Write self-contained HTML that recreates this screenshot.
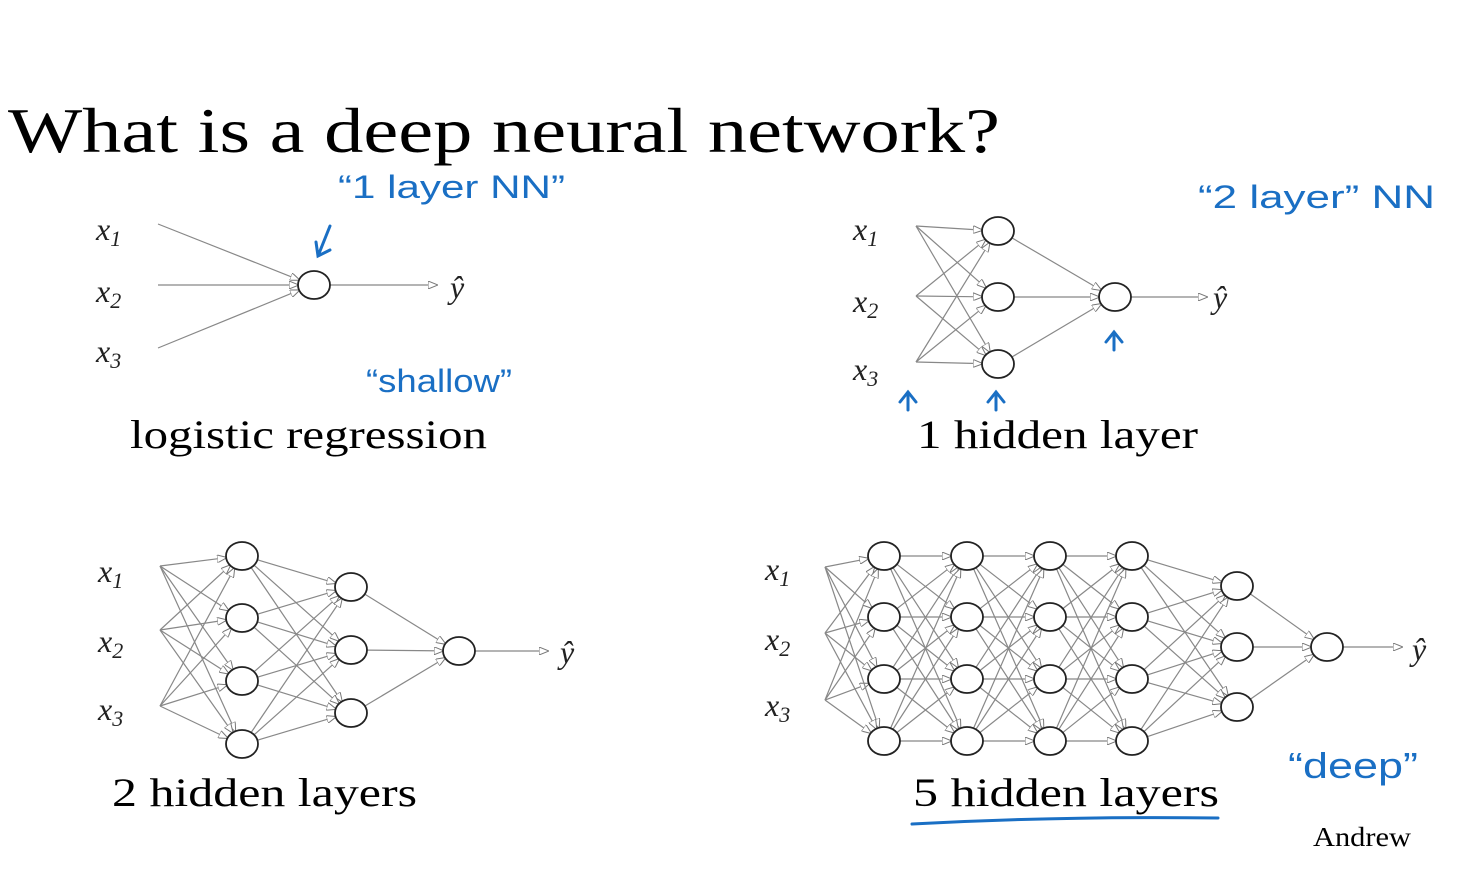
<!DOCTYPE html>
<html><head><meta charset="utf-8"><style>
html,body{margin:0;padding:0;background:#fff;}
svg{display:block}
.t{font-family:"Liberation Serif",serif;fill:#000}
.x{font-family:"Liberation Serif",serif;font-style:italic;fill:#222;font-size:32px}
.h{font-family:"Liberation Sans",sans-serif;fill:#1a6fc4;font-size:32px}
</style></head><body>
<svg id="s" width="1460" height="894" xmlns="http://www.w3.org/2000/svg">
<defs><marker id="a" markerWidth="10" markerHeight="8" refX="9" refY="4" orient="auto" markerUnits="userSpaceOnUse"><path d="M0,0 L10,4 L0,8 Z" fill="#fff" stroke="#777" stroke-width="1"/></marker></defs>
<rect width="1460" height="894" fill="#fff"/>
<text class="t" x="8" y="152" font-size="64" textLength="992" lengthAdjust="spacingAndGlyphs">What is a deep neural network?</text>
<text class="t" x="130" y="448" font-size="40" textLength="357" lengthAdjust="spacingAndGlyphs">logistic regression</text>
<text class="t" x="917" y="448" font-size="40" textLength="281" lengthAdjust="spacingAndGlyphs">1 hidden layer</text>
<text class="t" x="112" y="806" font-size="40" textLength="305" lengthAdjust="spacingAndGlyphs">2 hidden layers</text>
<text class="t" x="913" y="806" font-size="40" textLength="306" lengthAdjust="spacingAndGlyphs">5 hidden layers</text>
<text class="t" x="1313" y="846" font-size="27" textLength="98" lengthAdjust="spacingAndGlyphs">Andrew</text>
<g id="g" stroke="#888" stroke-width="1.2" fill="none"></g>
<g id="n" stroke="#222" stroke-width="1.8" fill="#fff"></g>
<g class="x">
<text x="96" y="240">x<tspan font-size="22" dy="6">1</tspan></text>
<text x="96" y="302">x<tspan font-size="22" dy="6">2</tspan></text>
<text x="96" y="362">x<tspan font-size="22" dy="6">3</tspan></text>
<text x="853" y="240">x<tspan font-size="22" dy="6">1</tspan></text>
<text x="853" y="312">x<tspan font-size="22" dy="6">2</tspan></text>
<text x="853" y="380">x<tspan font-size="22" dy="6">3</tspan></text>
<text x="98" y="582">x<tspan font-size="22" dy="6">1</tspan></text>
<text x="98" y="652">x<tspan font-size="22" dy="6">2</tspan></text>
<text x="98" y="720">x<tspan font-size="22" dy="6">3</tspan></text>
<text x="765" y="580">x<tspan font-size="22" dy="6">1</tspan></text>
<text x="765" y="650">x<tspan font-size="22" dy="6">2</tspan></text>
<text x="765" y="716">x<tspan font-size="22" dy="6">3</tspan></text>
<text x="450" y="298">ŷ</text>
<text x="1213" y="308">ŷ</text>
<text x="560" y="663">ŷ</text>
<text x="1412" y="660">ŷ</text>
</g>
<g class="h">
<text x="338" y="198" textLength="227" lengthAdjust="spacingAndGlyphs">“1 layer NN”</text>
<text x="1198" y="208" textLength="237" lengthAdjust="spacingAndGlyphs">“2 layer” NN</text>
<text x="366" y="392" textLength="146" lengthAdjust="spacingAndGlyphs">“shallow”</text>
<text x="1288" y="778" font-size="36" textLength="130" lengthAdjust="spacingAndGlyphs">“deep”</text>
</g>
<g stroke="#1a6fc4" stroke-width="3" fill="none" stroke-linecap="round">
<path d="M330,226 L318,256 M316,242 L318,256 L330,250"/>
<path d="M1114,350 L1114,332 M1106,342 L1114,332 L1122,342"/>
<path d="M908,410 L908,392 M900,402 L908,392 L916,402"/>
<path d="M996,410 L996,392 M988,402 L996,392 L1004,402"/>
<path d="M912,824 Q1060,816 1218,818"/>
</g>
</svg>
<script>
var NS="http://www.w3.org/2000/svg",g=document.getElementById('g'),n=document.getElementById('n');
function L(x1,y1,x2,y2,m){var l=document.createElementNS(NS,'line');l.setAttribute('x1',x1);l.setAttribute('y1',y1);l.setAttribute('x2',x2);l.setAttribute('y2',y2);if(m)l.setAttribute('marker-end','url(#a)');g.appendChild(l);}
function C(x,y){var e=document.createElementNS(NS,'ellipse');e.setAttribute('cx',x);e.setAttribute('cy',y);e.setAttribute('rx',16);e.setAttribute('ry',14);n.appendChild(e);}
function net(inX,inY,layers,outEnd){
  var prev=inY.map(function(y){return [inX,y]});var first=true;
  layers.forEach(function(ly){var x=ly[0];ly[1].forEach(function(y){prev.forEach(function(p){
    var dx=x-p[0],dy=y-p[1],d=Math.sqrt(dx*dx+dy*dy);var sx=first?0:16*dx/d,sy=first?0:14*dy/d;
    L(p[0]+sx,p[1]+sy,x-16*dx/d,y-14*dy/d,true);});});
    first=false;prev=ly[1].map(function(y){return [x,y]});ly[1].forEach(function(y){C(x,y)});});
  var o=prev[0];L(o[0]+16,o[1],outEnd,o[1],true);
}
net(158,[224,285,348],[[314,[285]]],437);
net(916,[226,296,362],[[998,[231,297,364]],[1115,[297]]],1207);
net(160,[566,630,706],[[242,[556,618,681,744]],[351,[587,650,713]],[459,[651]]],548);
var Y=[556,617,679,741];
net(825,[567,633,700],[[884,Y],[967,Y],[1050,Y],[1132,Y],[1237,[586,647,707]],[1327,[647]]],1402);
</script>
</body></html>
